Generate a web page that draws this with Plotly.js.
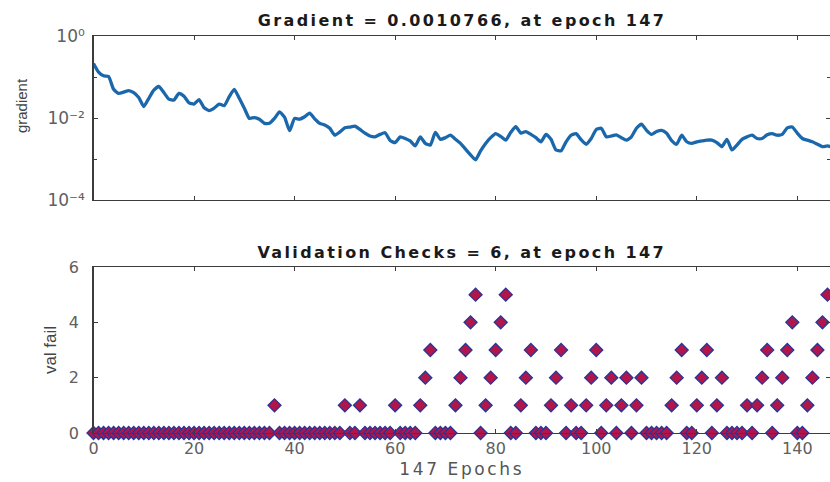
<!DOCTYPE html>
<html>
<head>
<meta charset="utf-8">
<script src="https://cdn.plot.ly/plotly-3.0.1.min.js"></script>
<style>
  html, body { margin: 0; padding: 0; background: #ffffff; }
  #chart { width: 830px; height: 482px; }
</style>
</head>
<body>
<div id="chart"></div>
<script>
// ---- data ----
const epochs = Array.from({length: 148}, (_, i) => i);   // 0 .. 147

// gradient, read as log10 values (one per epoch)
const gradientLog10 = [
  -0.67, -0.88, -0.97, -0.99, -1.30, -1.40, -1.37, -1.33, -1.38, -1.50,
  -1.72, -1.52, -1.32, -1.23, -1.38, -1.54, -1.56, -1.40, -1.47, -1.63,
  -1.66, -1.55, -1.75, -1.82, -1.76, -1.66, -1.70, -1.48, -1.30, -1.52,
  -1.76, -2.01, -1.99, -2.03, -2.13, -2.13, -2.01, -1.85, -1.98, -2.31,
  -2.01, -2.03, -1.97, -1.88, -2.02, -2.13, -2.17, -2.25, -2.42, -2.34,
  -2.24, -2.22, -2.20, -2.28, -2.37, -2.44, -2.46, -2.40, -2.36, -2.55,
  -2.60, -2.46, -2.50, -2.56, -2.68, -2.46, -2.62, -2.66, -2.35, -2.52,
  -2.48, -2.42, -2.52, -2.62, -2.76, -2.90, -3.02, -2.80, -2.62, -2.48,
  -2.38, -2.45, -2.54, -2.35, -2.21, -2.37, -2.33, -2.40, -2.48, -2.58,
  -2.40, -2.52, -2.78, -2.80, -2.58, -2.42, -2.38, -2.53, -2.64, -2.50,
  -2.28, -2.25, -2.46, -2.44, -2.41, -2.48, -2.54, -2.46, -2.25, -2.15,
  -2.30, -2.40, -2.33, -2.30, -2.37, -2.55, -2.64, -2.42, -2.58, -2.62,
  -2.58, -2.56, -2.54, -2.54, -2.60, -2.70, -2.52, -2.78, -2.66, -2.52,
  -2.46, -2.42, -2.50, -2.50, -2.41, -2.38, -2.42, -2.40, -2.24, -2.22,
  -2.37, -2.50, -2.54, -2.58, -2.64, -2.70, -2.68, -2.72
];
const gradient = gradientLog10.map(v => Math.pow(10, v));

// validation failures (one per epoch)
const valFail = [
  0,0,0,0,0,0,0,0,0,0, 0,0,0,0,0,0,0,0,0,0,
  0,0,0,0,0,0,0,0,0,0, 0,0,0,0,0,0,1,0,0,0,
  0,0,0,0,0,0,0,0,0,0, 1,0,0,1,0,0,0,0,0,0,
  1,0,0,0,0,1,2,3,0,0, 0,0,1,2,3,4,5,0,1,2,
  3,4,5,0,0,1,2,3,0,0, 0,1,2,3,0,1,0,0,1,2,
  3,0,1,2,0,1,2,0,1,2, 0,0,0,0,0,1,2,3,0,0,
  1,2,3,0,1,2,0,0,0,0, 1,0,1,2,3,0,1,2,3,4,
  0,0,1,2,3,4,5,6
];

const xTicks = [0, 20, 40, 60, 80, 100, 120, 140];
const gradTickVals = [1e-4, 1e-2, 1];
const gradTickText = ['10\u207B\u2074', '10\u207B\u00B2', '10\u2070'];
const gradMinorTicks = [1e-3, 1e-1];
const valTicks = [0, 2, 4, 6];

const titleTop = 'Gradient = 0.0010766, at epoch 147';
const titleBottom = 'Validation Checks = 6, at epoch 147';
const yLabelTop = 'gradient';
const yLabelBottom = 'val fail';
const xLabel = '147 Epochs';

// ---- drawing ----
const W = 830, H = 482;
const px = x => x / W;
const py = y => 1 - y / H;

const axisCommon = {
  showline: true, linecolor: '#3c3c3c', linewidth: 1.3,
  mirror: 'ticks', ticks: 'inside', ticklen: 4, tickcolor: '#3c3c3c',
  showgrid: false, zeroline: false, automargin: false,
  tickfont: {family: 'DejaVu Sans', size: 16, color: '#606060'}
};

const traces = [
  {
    x: epochs, y: gradient, type: 'scatter', mode: 'lines',
    xaxis: 'x', yaxis: 'y',
    line: {color: '#1a68ab', width: 3.3, shape: 'spline', smoothing: 0.5},
    hoverinfo: 'skip'
  },
  {
    x: epochs, y: valFail, type: 'scatter', mode: 'markers',
    xaxis: 'x2', yaxis: 'y2', cliponaxis: false,
    marker: {symbol: 'diamond', size: 10, color: '#b2154a',
             line: {color: '#2b3596', width: 1.3}},
    hoverinfo: 'skip'
  }
];

const layout = {
  width: W, height: H,
  margin: {l: 0, r: 0, t: 0, b: 0},
  paper_bgcolor: '#ffffff', plot_bgcolor: '#ffffff',
  showlegend: false,
  font: {family: 'DejaVu Sans', color: '#333'},
  title: {
    text: '<b>' + titleTop + '</b>',
    x: px(462), xref: 'container', xanchor: 'center',
    y: py(20), yref: 'container', yanchor: 'middle',
    font: {family: 'DejaVu Sans', size: 16, color: '#1a1a1a'}
  },
  xaxis: Object.assign({}, axisCommon, {
    domain: [px(93.5), 1], range: [0, 146.5], anchor: 'y',
    tickvals: xTicks, showticklabels: false,
    title: {text: '<b>' + titleBottom + '</b>', standoff: 46,
            font: {family: 'DejaVu Sans', size: 16, color: '#1a1a1a'}}
  }),
  yaxis: Object.assign({}, axisCommon, {
    domain: [py(200), py(36)], type: 'log', range: [-4, 0], anchor: 'x',
    tickvals: gradTickVals, ticktext: gradTickText, ticklabelstandoff: 4,
    tickfont: {family: 'DejaVu Sans', size: 17, color: '#606060'},
    minor: {tickmode: 'array', tickvals: gradMinorTicks, ticks: 'inside',
            ticklen: 3, tickcolor: '#3c3c3c', showgrid: false},
    title: {text: yLabelTop, standoff: 16,
            font: {family: 'Liberation Sans', size: 15, color: '#444'}}
  }),
  xaxis2: Object.assign({}, axisCommon, {
    domain: [px(93.5), 1], range: [0, 146.5], anchor: 'y2',
    tickvals: xTicks,
    title: {text: xLabel, standoff: 6,
            font: {family: 'DejaVu Sans', size: 17, color: '#555'}}
  }),
  yaxis2: Object.assign({}, axisCommon, {
    domain: [py(433), py(267)], range: [0, 6], anchor: 'x2',
    tickvals: valTicks, ticklabelstandoff: 10,
    title: {text: yLabelBottom, standoff: 8,
            font: {family: 'Liberation Sans', size: 17, color: '#444'}}
  })
};

Plotly.newPlot('chart', traces, layout, {staticPlot: true, displayModeBar: false}).then(() => {
  const spaced = {'text.gtitle': '2.4px', 'text.xtitle': '2.4px', 'text.x2title': '2.6px'};
  Object.keys(spaced).forEach(sel => {
    const t = document.querySelector('#chart ' + sel);
    if (t) t.style.letterSpacing = spaced[sel];
  });
  // the reference places the "gradient" label a little above the panel centre
  const yt = document.querySelector('#chart text.ytitle');
  if (yt) {
    const x = parseFloat(yt.getAttribute('x'));
    const y = parseFloat(yt.getAttribute('y')) - 12;
    yt.setAttribute('y', y);
    yt.setAttribute('transform', 'rotate(-90,' + x + ',' + y + ')');
  }
});
</script>
</body>
</html>
